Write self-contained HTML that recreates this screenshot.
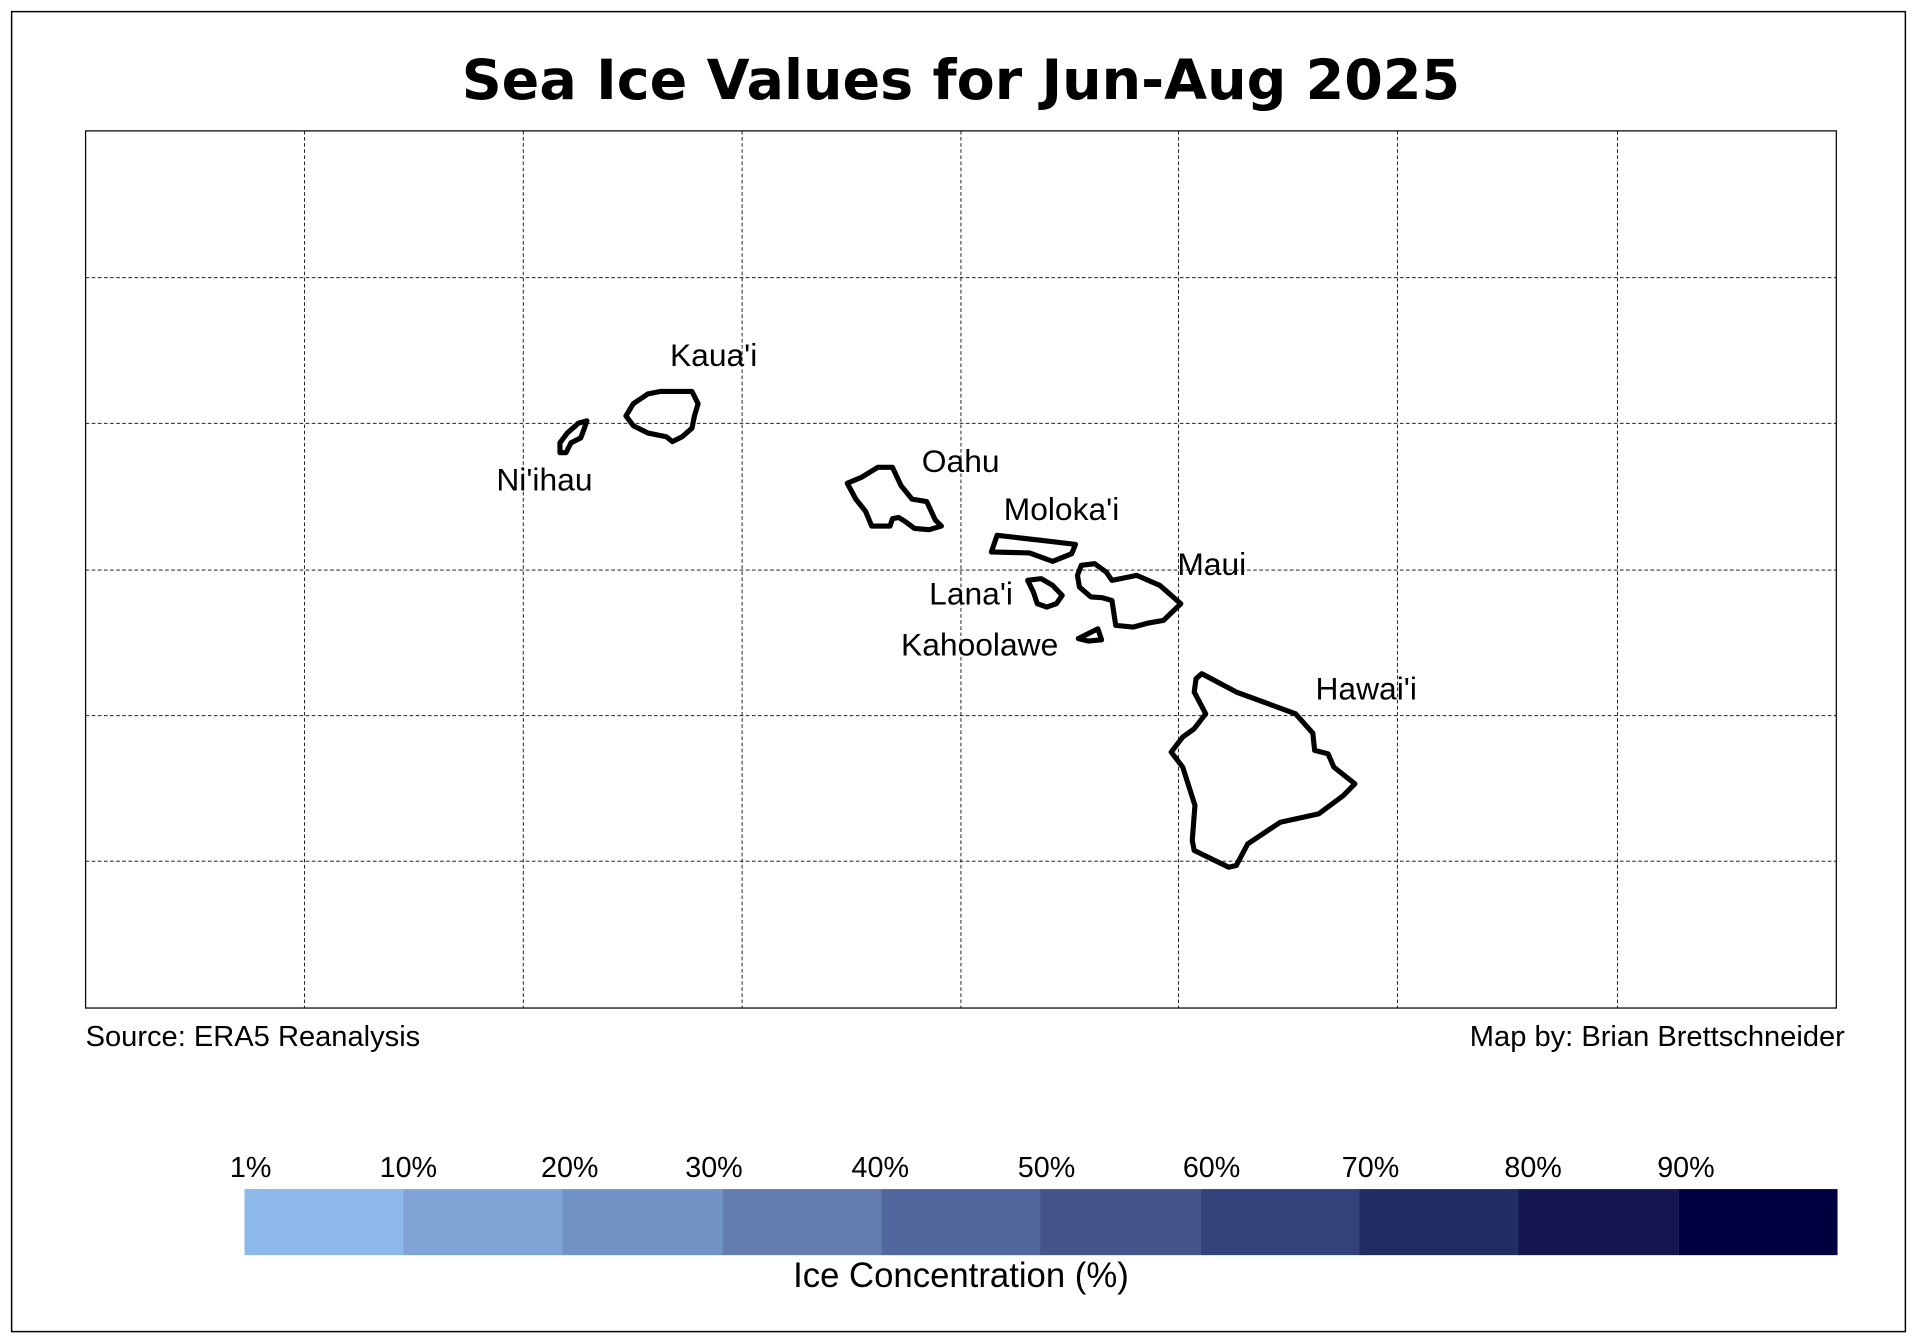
<!DOCTYPE html>
<html><head><meta charset="utf-8"><style>html,body{margin:0;padding:0;background:#fff}svg{display:block}</style></head>
<body>
<svg width="1917" height="1342" viewBox="0 0 1568 1097" preserveAspectRatio="none" xmlns="http://www.w3.org/2000/svg">
<rect x="0" y="0" width="1568" height="1097" fill="#fff"/>
<rect x="9.5" y="9.5" width="1549" height="1079" fill="none" stroke="#000" stroke-width="1.2"/>
<text x="786" y="81" text-anchor="middle" font-family="DejaVu Sans, sans-serif" font-weight="bold" font-size="45.4">Sea Ice Values for Jun-Aug 2025</text>
<g stroke="#000" stroke-width="0.7" stroke-dasharray="3,2" fill="none">
<line x1="249" y1="107" x2="249" y2="824"/><line x1="428" y1="107" x2="428" y2="824"/><line x1="607" y1="107" x2="607" y2="824"/><line x1="786" y1="107" x2="786" y2="824"/><line x1="964" y1="107" x2="964" y2="824"/><line x1="1143" y1="107" x2="1143" y2="824"/><line x1="1323" y1="107" x2="1323" y2="824"/>
<line x1="70" y1="227" x2="1502" y2="227"/><line x1="70" y1="346" x2="1502" y2="346"/><line x1="70" y1="466" x2="1502" y2="466"/><line x1="70" y1="585" x2="1502" y2="585"/><line x1="70" y1="704" x2="1502" y2="704"/>
</g>
<rect x="70" y="107" width="1432" height="717" fill="none" stroke="#000" stroke-width="1"/>
<g fill="none" stroke="#000" stroke-width="4.2" stroke-linejoin="round">
<polygon points="480,344 473,346 464,354 458,362 458,370 463,370 467,362 475,358 478,350"/>
<polygon points="540,320 566,320 571,330 568,340 566,350 558,357 550,361 545,357 530,354 518,348 512,340 518,330 530,322"/>
<polygon points="693,395 705,390 718,382 730,382 737,397 746,408 758,410 765,425 770,430 760,433 748,432 740,426 735,423 730,424 728,430 713,430 708,418 700,408"/>
<polygon points="815.6,437.6 851.6,441.7 879.7,445 876.6,452.6 861,458.9 842.1,452 810.9,451.2"/>
<polygon points="840.6,474.4 851.6,473 861,478.5 868.8,486.7 864.1,493.5 856.2,496.2 848.4,493.5 845.3,484"/>
<polygon points="884.4,462.1 895.4,460.8 904.8,467.6 909.5,474.4 929.8,470.3 948.6,478.5 965.8,493.5 951.7,507.1 939.2,509.3 926.7,512.6 912.6,511.2 909.5,490.8 901.6,488.6 892.3,488 882.9,479.9 881.3,470.3"/>
<polygon points="882,522 898,514 901,523 890,524"/>
<polygon points="983,550.7 1011.2,565.7 1059.7,583.5 1073.8,599.3 1075.3,613.4 1086.3,616.2 1091,627.1 1108.2,640.7 1098.8,650.3 1078.5,665.3 1047.2,672.1 1020.6,689.8 1011.2,707.5 1004.9,708.9 976.8,695.2 975.2,687.1 977.4,658.4 967.4,627.1 958,614.8 967.4,602.5 976.8,595.7 986.2,583.5 976.8,565.7 978.3,554.8"/>
</g>
<g font-family="Liberation Sans, sans-serif" font-size="26" fill="#000">
<text x="548" y="299">Kaua'i</text>
<text x="406" y="401">Ni'ihau</text>
<text x="754" y="386">Oahu</text>
<text x="821" y="425">Moloka'i</text>
<text x="963" y="470">Maui</text>
<text x="760" y="494">Lana'i</text>
<text x="737" y="536">Kahoolawe</text>
<text x="1076" y="572">Hawai'i</text>
</g>
<g font-family="Liberation Sans, sans-serif" font-size="23.8" fill="#000">
<text x="70" y="855">Source: ERA5 Reanalysis</text>
<text x="1509" y="855" text-anchor="end">Map by: Brian Brettschneider</text>
</g>
<g>
<rect x="200" y="972" width="131" height="54" fill="#8db8ea"/>
<rect x="330" y="972" width="131" height="54" fill="#80a4d6"/>
<rect x="460" y="972" width="131" height="54" fill="#7293c5"/>
<rect x="591" y="972" width="131" height="54" fill="#637eae"/>
<rect x="721" y="972" width="131" height="54" fill="#52679e"/>
<rect x="851" y="972" width="131" height="54" fill="#43558b"/>
<rect x="982" y="972" width="131" height="54" fill="#33427a"/>
<rect x="1112" y="972" width="131" height="54" fill="#232d65"/>
<rect x="1242" y="972" width="131" height="54" fill="#13164f"/>
<rect x="1373" y="972" width="130" height="54" fill="#000040"/>
</g>
<g font-family="Liberation Sans, sans-serif" font-size="23.5" fill="#000" text-anchor="middle">
<text x="205" y="962">1%</text><text x="334" y="962">10%</text><text x="466" y="962">20%</text><text x="584" y="962">30%</text><text x="720" y="962">40%</text><text x="856" y="962">50%</text><text x="991" y="962">60%</text><text x="1121" y="962">70%</text><text x="1254" y="962">80%</text><text x="1379" y="962">90%</text>
</g>
<text x="786" y="1052" text-anchor="middle" font-family="Liberation Sans, sans-serif" font-size="28.4">Ice Concentration (%)</text>
</svg>
</body></html>
